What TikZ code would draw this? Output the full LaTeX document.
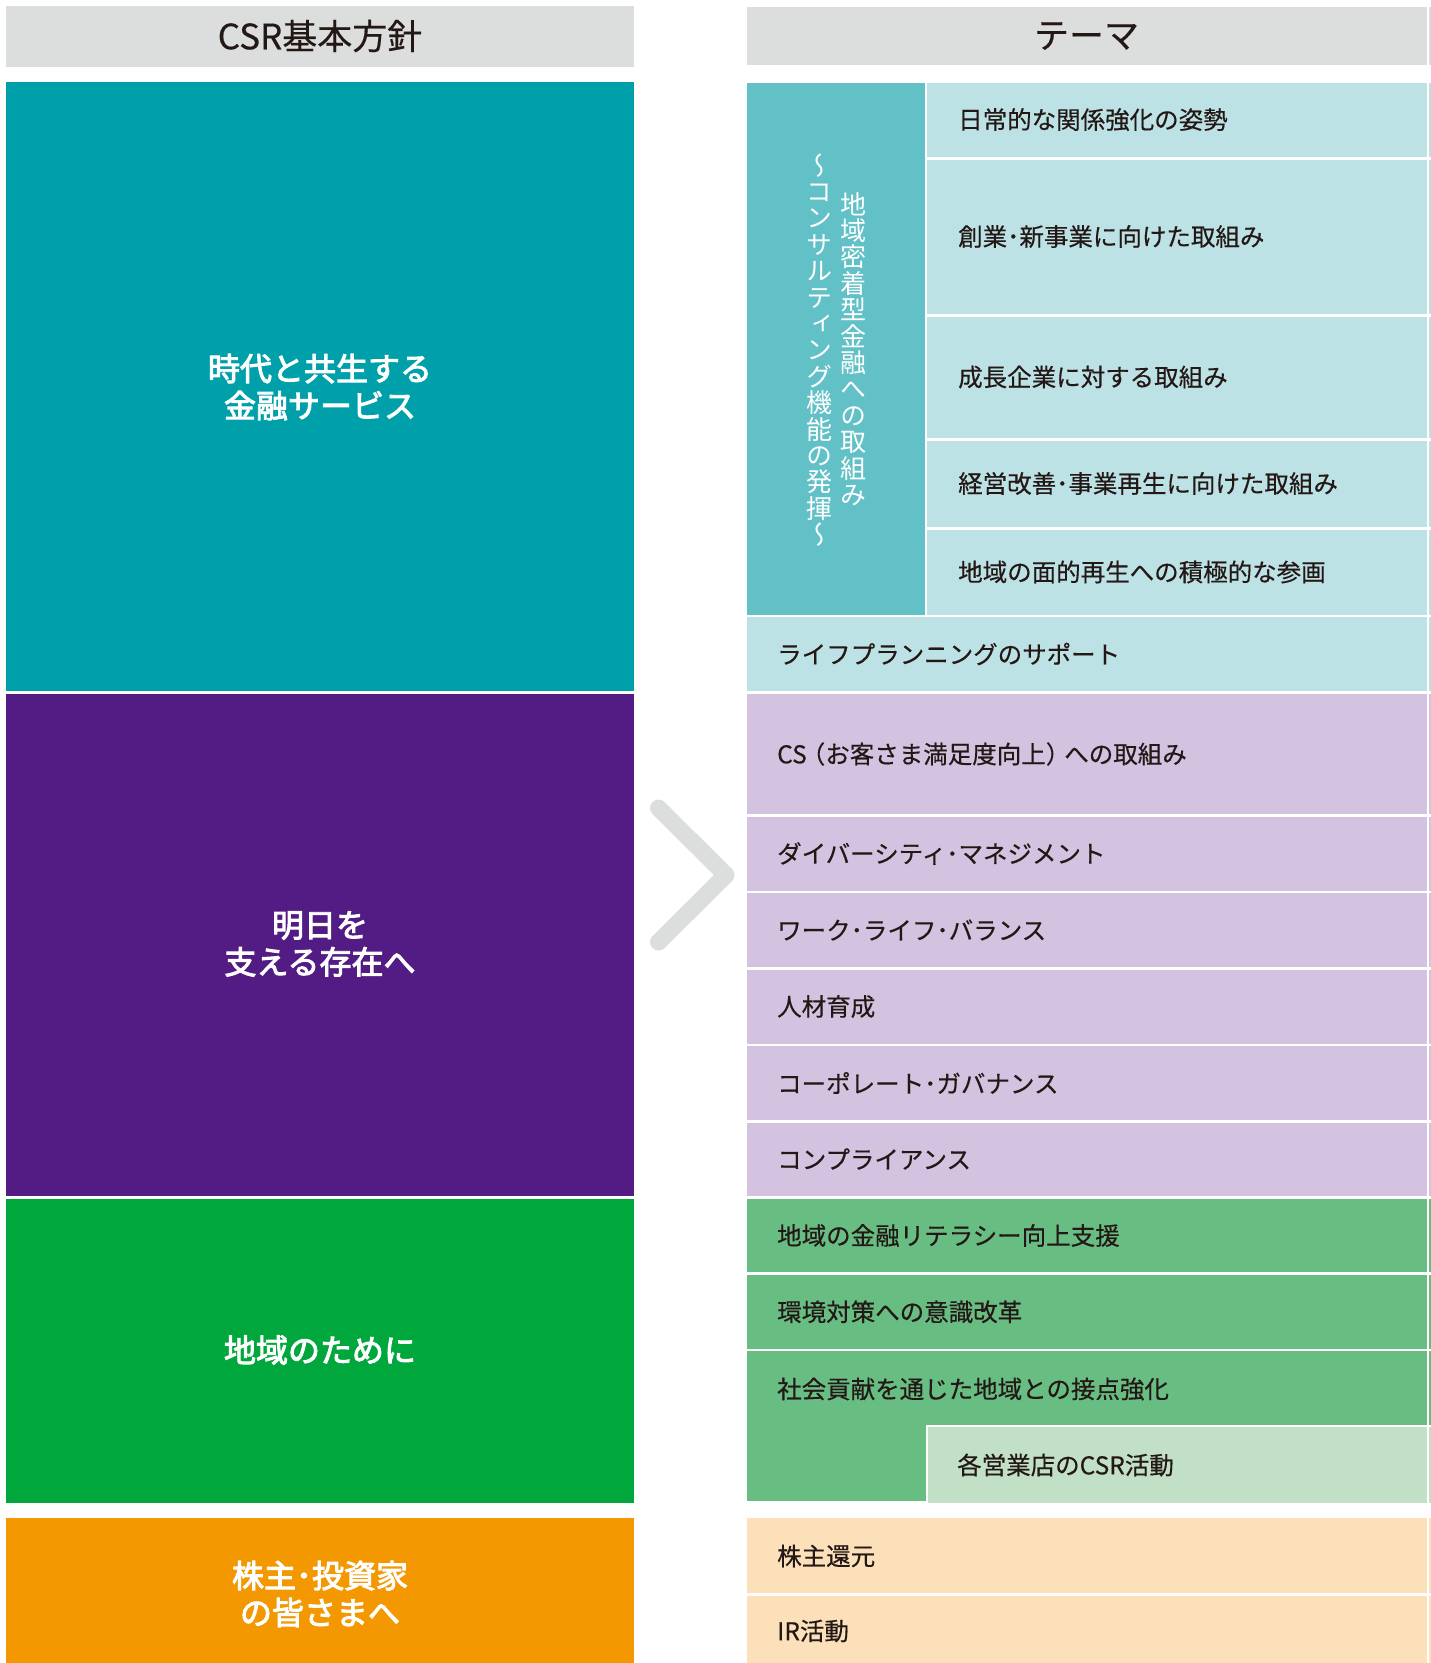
\documentclass[tikz,border=0pt]{standalone}
\usepackage{fontspec}
\usepackage{graphicx}
\setmainfont{Noto Sans CJK JP}
\newfontfamily\tatefont[RawFeature=+vert]{Noto Sans CJK JP}
\newfontfamily\medfont[FakeBold=3]{Noto Sans CJK JP}
\newfontfamily\rowfont[FakeBold=0.4]{Noto Sans CJK JP}
\definecolor{hdr}{HTML}{DCDDDD}
\definecolor{tealD}{HTML}{00A0AA}
\definecolor{tealM}{HTML}{62C1C7}
\definecolor{tealL}{HTML}{BDE2E5}
\definecolor{purD}{HTML}{521C84}
\definecolor{purL}{HTML}{D3C3E0}
\definecolor{grnD}{HTML}{00A73C}
\definecolor{grnM}{HTML}{68BD83}
\definecolor{grnL}{HTML}{C1E0C5}
\definecolor{orgD}{HTML}{F39800}
\definecolor{orgL}{HTML}{FBE0BA}
\definecolor{ink}{HTML}{231815}
\begin{document}
\begin{tikzpicture}[x=1pt,y=-1pt,
  hdrtext/.style={text=ink,font=\rowfont\fontsize{35}{40}\selectfont,inner sep=0pt},
  bigtext/.style={text=white,align=center,font=\medfont\fontsize{32}{37}\selectfont,inner sep=0pt},
  rowtext/.style={text=ink,anchor=west,font=\rowfont\fontsize{24.5}{28}\selectfont,inner sep=0pt},
  tate/.style={text=white,align=center,font=\tatefont\fontsize{26}{26.4}\selectfont,inner sep=0pt},
  chev/.style={draw=hdr,line width=17pt,line cap=round,line join=round}]
\useasboundingbox (0,0) rectangle (1431,1663);
% left column
\fill[hdr] (6,6) rectangle (634,66.5);
\fill[tealD] (6,82) rectangle (634,690.7);
\fill[purD] (6,693.7) rectangle (634,1195.7);
\fill[grnD] (6,1199) rectangle (634,1502.7);
\fill[orgD] (6,1517.7) rectangle (634,1663);
% right header
\fill[hdr] (746.5,6.7) rectangle (1426.5,65);
\fill[hdr] (1428.5,6.7) rectangle (1431,65);
% teal sidebar and sub rows
\fill[tealM] (747,82.5) rectangle (925,614.5);
\foreach \ya/\yb in {82.5/156.7,159.5/313.5,316.5/438,440.5/527,529.5/614.5}{
  \fill[tealL] (927,\ya) rectangle (1426.5,\yb);
  \fill[tealL] (1428.5,\ya) rectangle (1431,\yb);
}
% full-width rows
\foreach \ya/\yb/\c in {617.3/690.7/tealL,
  693.7/814.3/purL,816.7/891/purL,893.3/967/purL,969.5/1043.5/purL,1046/1120/purL,1122.5/1195.7/purL,
  1198.7/1271.7/grnM,1274.7/1348.5/grnM,1351/1425/grnM,
  1518.3/1592.7/orgL,1595.7/1663/orgL}{
  \fill[\c] (747,\ya) rectangle (1426.5,\yb);
  \fill[\c] (1428.5,\ya) rectangle (1431,\yb);
}
\fill[grnM] (747,1424) rectangle (926,1501);
\fill[grnL] (928,1427) rectangle (1426.5,1502.7);
\fill[grnL] (1428.5,1427) rectangle (1431,1502.7);
% chevron
\draw[chev] (658.5,808) -- (726,875) -- (658.5,942);
% headers
\node[hdrtext] (h1) at (320,36) {CSR基本方針};
\node[hdrtext] (h2) at (1086.5,36) {テーマ};
% left labels
\node[bigtext] (p1) at (320,387) {時代と共生する\\金融サービス};
\node[bigtext] (p2) at (320,944) {明日を\\支える存在へ};
\node[bigtext] (p3) at (320,1350) {地域のために};
\node[bigtext] (p4) at (320,1594) {株主･投資家\\の皆さまへ};
% vertical sidebar text
\node[tate] (v1) at (853,349) {地\\域\\密\\着\\型\\金\\融\\へ\\の\\取\\組\\み};
\node[tate] (v2) at (819.5,350) {～\\コ\\ン\\サ\\ル\\テ\\ィ\\ン\\グ\\機\\能\\の\\発\\揮\\～};
% teal sub rows
\node[rowtext] (t1) at (958,119.6) {日常的な関係強化の姿勢};
\node[rowtext] (t2) at (958,236.5) {創業･新事業に向けた取組み};
\node[rowtext] (t3) at (958,377) {成長企業に対する取組み};
\node[rowtext] (t4) at (958,483.5) {経営改善･事業再生に向けた取組み};
\node[rowtext] (t5) at (958,572) {地域の面的再生への積極的な参画};
\node[rowtext] (t6) at (777,654) {ライフプランニングのサポート};
% purple rows
\node[rowtext] (u1) at (777,754) {CS\hspace{-6pt}（お客さま満足度向上）\hspace{-6pt}への取組み};
\node[rowtext] (u2) at (777,853.5) {ダイバーシティ･マネジメント};
\node[rowtext] (u3) at (777,930) {ワーク･ライフ･バランス};
\node[rowtext] (u4) at (777,1006.5) {人材育成};
\node[rowtext] (u5) at (777,1083) {コーポレート･ガバナンス};
\node[rowtext] (u6) at (777,1159) {コンプライアンス};
% green rows
\node[rowtext] (g1) at (777,1235.5) {地域の金融リテラシー向上支援};
\node[rowtext] (g2) at (777,1311.8) {環境対策への意識改革};
\node[rowtext] (g3) at (777,1389) {社会貢献を通じた地域との接点強化};
\node[rowtext] (g4) at (957,1465) {各営業店のCSR活動};
% orange rows
\node[rowtext] (o1) at (777,1556) {株主還元};
\node[rowtext] (o2) at (777,1631) {IR活動};
\end{tikzpicture}
\end{document}
